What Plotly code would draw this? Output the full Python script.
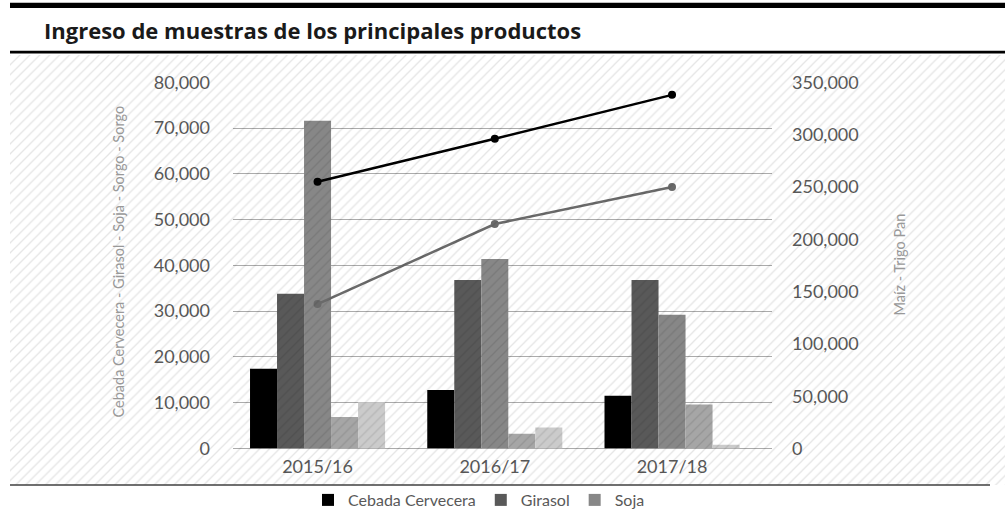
import plotly.graph_objects as go

# ---- data ----
categories = ["2015/16", "2016/17", "2017/18"]
cebada = [17400, 12800, 11500]
girasol = [33800, 36800, 36800]
soja = [71600, 41400, 29200]
sorgo = [6900, 3200, 9600]
sorgo_2 = [10100, 4600, 800]
maiz = [255000, 296000, 338000]
trigo_pan = [138000, 214500, 250000]

bar_series = [
    ("Cebada Cervecera", cebada, "#000000", True),
    ("Girasol", girasol, "#595959", True),
    ("Soja", soja, "#878787", True),
    ("Sorgo", sorgo, "#a6a6a6", False),
    ("Sorgo 2", sorgo_2, "#cbcbcb", False),
]
line_series = [
    ("Maíz", maiz, "#000000"),
    ("Trigo Pan", trigo_pan, "#6a6a6a"),
]

W, H = 1005, 517
ML, MR, MT, MB = 10, 0, 55, 32
PW, PH = W - ML - MR, H - MT - MB


def X(px):
    return (px - ML) / PW


def Y(py):
    return (H - MB - py) / PH


FONT = "Lato, 'Open Sans', sans-serif"
TITLE_FONT = "'Open Sans', Lato, sans-serif"
TICK_COLOR = "#595959"

fig = go.Figure()

for name, vals, color, show in bar_series:
    fig.add_trace(go.Bar(
        x=categories, y=vals, name=name, marker=dict(color=color, line=dict(width=0)),
        showlegend=show, xaxis="x", yaxis="y",
    ))

for name, vals, color in line_series:
    fig.add_trace(go.Scatter(
        x=categories, y=vals, name=name, mode="lines+markers",
        line=dict(color=color, width=2.5), marker=dict(color=color, size=8),
        showlegend=False, xaxis="x", yaxis="y2",
    ))

# diagonal hatch overlay over the chart region
fig.add_trace(go.Scatter(
    x=[0, 1, 1, 0, 0], y=[0, 0, 1, 1, 0], fill="toself", mode="none",
    fillcolor="rgba(0,0,0,0)",
    fillpattern=dict(shape="/", fgcolor="rgba(0,0,0,0.2)", bgcolor="rgba(0,0,0,0)",
                     size=7, solidity=0.18),
    hoverinfo="skip", showlegend=False, xaxis="x3", yaxis="y3",
))

fig.update_layout(
    width=W, height=H,
    margin=dict(l=ML, r=MR, t=MT, b=MB, pad=0),
    paper_bgcolor="white", plot_bgcolor="rgba(0,0,0,0)",
    barmode="group", bargap=0.238, bargroupgap=0,
    font=dict(family=FONT, color=TICK_COLOR),
    xaxis=dict(
        domain=[X(233), X(772)], anchor="y", type="category",
        range=[-0.477, 2.564], showgrid=False, zeroline=False, showline=False,
        ticks="", tickfont=dict(size=18, color=TICK_COLOR), ticklabelstandoff=5,
    ),
    yaxis=dict(
        domain=[Y(448.5), Y(82.3)], anchor="x", range=[0, 80000], dtick=10000,
        tickformat=",", showgrid=True, gridcolor="#ababab", gridwidth=1,
        zeroline=True, zerolinecolor="#ababab", zerolinewidth=1, showline=False,
        ticks="", tickfont=dict(size=18, color=TICK_COLOR), ticklabelstandoff=22,
    ),
    yaxis2=dict(
        overlaying="y", side="right", anchor="x", range=[0, 350000], dtick=50000,
        tickformat=",", showgrid=False, zeroline=False, showline=False,
        ticks="", tickfont=dict(size=18, color=TICK_COLOR), ticklabelstandoff=19,
    ),
    xaxis3=dict(domain=[0, 1], range=[0, 1], anchor="y3", visible=False, fixedrange=True),
    yaxis3=dict(domain=[0, 1], range=[0, 1], anchor="x3", visible=False, fixedrange=True),
    legend=dict(
        orientation="h", x=X(479), xanchor="center", y=Y(500), yanchor="middle",
        font=dict(size=16, color=TICK_COLOR), bgcolor="rgba(0,0,0,0)",
        itemwidth=30, tracegroupgap=0,
    ),
    shapes=[
        dict(type="rect", xref="paper", yref="paper", x0=X(10), x1=X(1005),
             y0=Y(8), y1=Y(2.7), fillcolor="black", line=dict(width=0), layer="above"),
        dict(type="rect", xref="paper", yref="paper", x0=X(10), x1=X(1005),
             y0=Y(53.5), y1=Y(50.8), fillcolor="black", line=dict(width=0), layer="above"),
        dict(type="line", xref="paper", yref="paper", x0=X(10), x1=X(990),
             y0=Y(485), y1=Y(485), line=dict(color="#404040", width=1.5), layer="above"),
    ],
    annotations=[
        dict(text="<b>Ingreso de muestras de los principales productos</b>",
             xref="paper", yref="paper", x=X(42), y=Y(30), xanchor="left", yanchor="middle",
             showarrow=False, font=dict(size=22, color="#1a1a1a", family=TITLE_FONT)),
        dict(text="Cebada Cervecera - Girasol - Soja - Sorgo - Sorgo",
             xref="paper", yref="paper", x=X(118), y=Y(261.5), textangle=-90,
             xanchor="center", yanchor="middle", showarrow=False,
             font=dict(size=14.5, color="#999999", family=FONT)),
        dict(text="Maíz - Trigo Pan",
             xref="paper", yref="paper", x=X(899), y=Y(264.5), textangle=-90,
             xanchor="center", yanchor="middle", showarrow=False,
             font=dict(size=14.5, color="#999999", family=FONT)),
    ],
)

fig.write_html(
    "out.html",
    config={"displayModeBar": False},
    post_script="document.body.style.margin='0';document.body.style.padding='0';",
)
